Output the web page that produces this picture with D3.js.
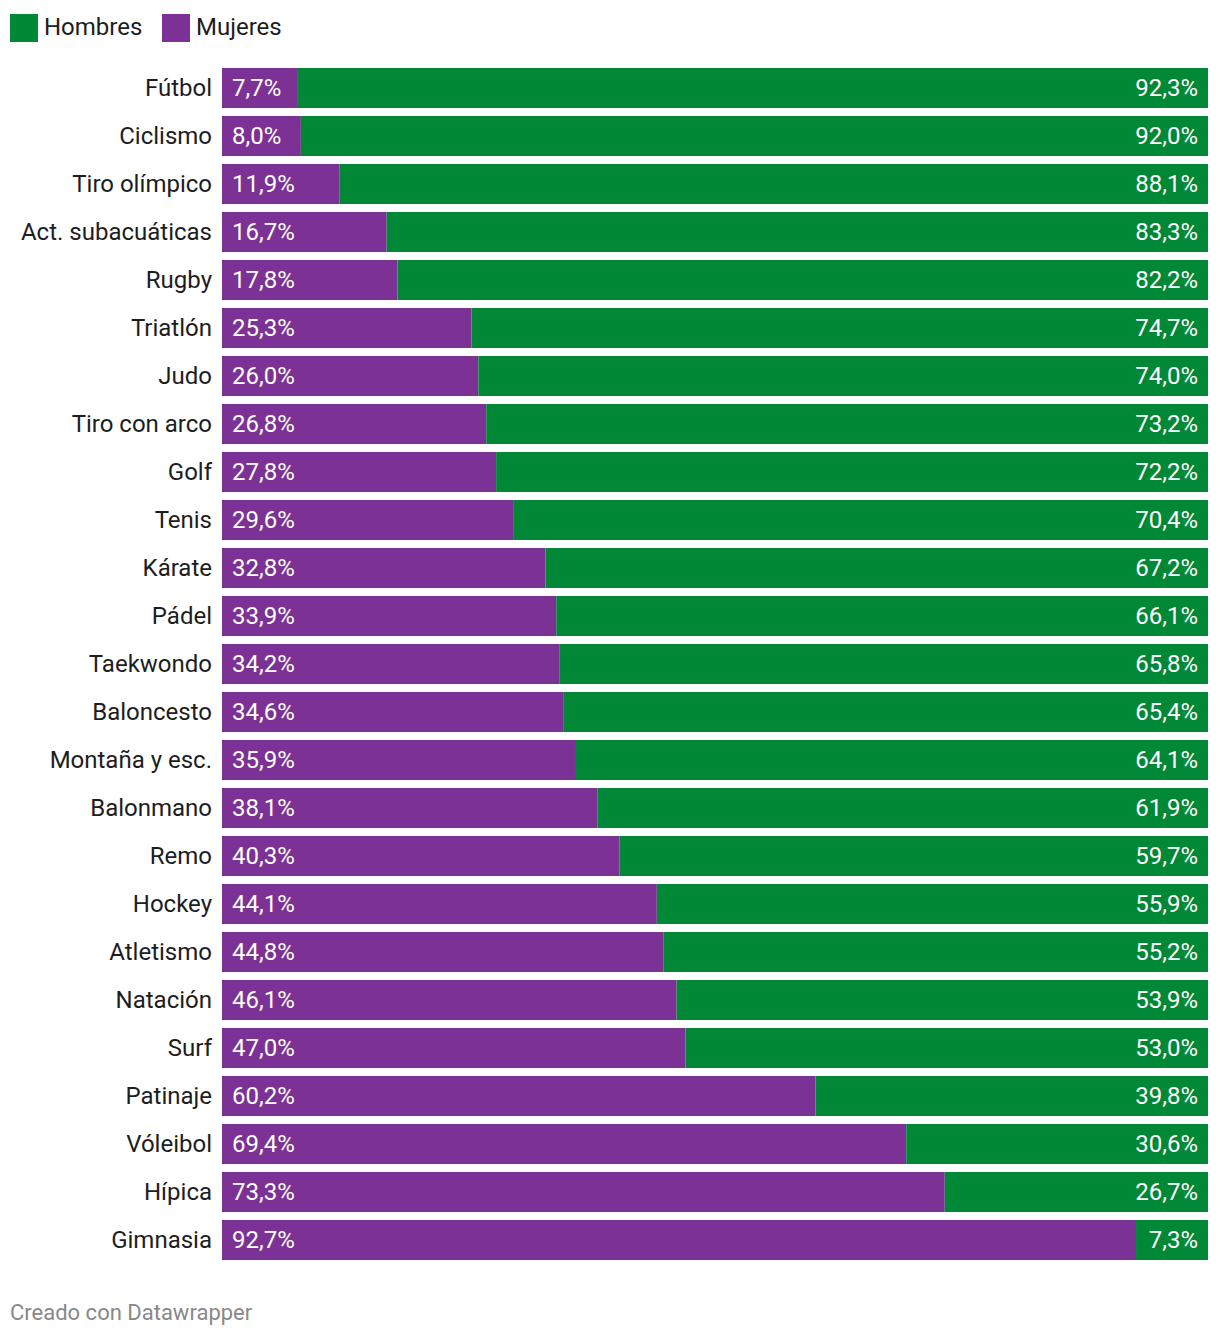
<!DOCTYPE html>
<html>
<head>
<meta charset="utf-8">
<script src="https://cdn.jsdelivr.net/npm/d3@7"></script>
<style>
	body { margin: 0; background: #fff; font-family: Roboto, sans-serif; }
</style>
</head>
<body>
<div id="chart"></div>
<script>
var sports = ['Fútbol', 'Ciclismo', 'Tiro olímpico', 'Act. subacuáticas', 'Rugby', 'Triatlón', 'Judo',
	'Tiro con arco', 'Golf', 'Tenis', 'Kárate', 'Pádel', 'Taekwondo', 'Baloncesto', 'Montaña y esc.',
	'Balonmano', 'Remo', 'Hockey', 'Atletismo', 'Natación', 'Surf', 'Patinaje', 'Vóleibol', 'Hípica', 'Gimnasia'];
var mujeres = [7.7, 8.0, 11.9, 16.7, 17.8, 25.3, 26.0, 26.8, 27.8, 29.6, 32.8, 33.9, 34.2, 34.6, 35.9,
	38.1, 40.3, 44.1, 44.8, 46.1, 47.0, 60.2, 69.4, 73.3, 92.7];
var hombres = [92.3, 92.0, 88.1, 83.3, 82.2, 74.7, 74.0, 73.2, 72.2, 70.4, 67.2, 66.1, 65.8, 65.4, 64.1,
	61.9, 59.7, 55.9, 55.2, 53.9, 53.0, 39.8, 30.6, 26.7, 7.3];
var series = ['Hombres', 'Mujeres'];
var colors = { Hombres: '#008837', Mujeres: '#7b3294' };

var width = 1220, height = 1338;
var margin = { top: 64, left: 222, right: 12 };

var rows = sports.map(function(s, i) { return { name: s, m: mujeres[i], h: hombres[i] }; });

var svg = d3.select('#chart').append('svg')
	.attr('width', width)
	.attr('height', height);

var x = d3.scaleLinear().domain([0, 100]).range([margin.left, width - margin.right]);
var y = d3.scaleBand().domain(sports).range([margin.top, margin.top + 48 * sports.length]).paddingInner(1 / 6).paddingOuter(1 / 12);

var fmt = function(v) { return d3.format('.1f')(v).replace('.', ',') + '%'; };

// legend
var legend = svg.append('g').selectAll('g')
	.data(series)
	.enter()
	.append('g')
	.attr('transform', function(d, i) { return 'translate(' + (i === 0 ? 10 : 162) + ',14)'; });

legend.append('rect')
	.attr('width', 28)
	.attr('height', 28)
	.attr('fill', function(d) { return colors[d]; });

legend.append('text')
	.attr('x', 34)
	.attr('y', 21)
	.style('font-size', '24px')
	.style('fill', '#1d1d1d')
	.text(function(d) { return d; });

var rowEls = svg.append('g').selectAll('.row')
	.data(rows)
	.enter()
	.append('g')
	.attr('class', 'row');

rowEls.append('rect')
	.attr('x', x(0))
	.attr('y', function(d) { return y(d.name); })
	.attr('width', function(d) { return x(d.m) - x(0); })
	.attr('height', y.bandwidth())
	.attr('fill', colors.Mujeres);

rowEls.append('rect')
	.attr('x', function(d) { return x(d.m); })
	.attr('y', function(d) { return y(d.name); })
	.attr('width', function(d) { return x(100) - x(d.m); })
	.attr('height', y.bandwidth())
	.attr('fill', colors.Hombres);

rowEls.append('text')
	.attr('x', margin.left - 10)
	.attr('y', function(d) { return y(d.name) + y.bandwidth() / 2; })
	.attr('dy', '0.35em')
	.attr('text-anchor', 'end')
	.style('font-size', '24px')
	.style('fill', '#1d1d1d')
	.text(function(d) { return d.name; });

rowEls.append('text')
	.attr('x', x(0) + 10)
	.attr('y', function(d) { return y(d.name) + y.bandwidth() / 2; })
	.attr('dy', '0.35em')
	.style('font-size', '24px')
	.style('fill', '#fff')
	.text(function(d) { return fmt(d.m); });

rowEls.append('text')
	.attr('x', x(100) - 10)
	.attr('y', function(d) { return y(d.name) + y.bandwidth() / 2; })
	.attr('dy', '0.35em')
	.attr('text-anchor', 'end')
	.style('font-size', '24px')
	.style('fill', '#fff')
	.text(function(d) { return fmt(d.h); });

svg.append('text')
	.attr('x', 10)
	.attr('y', 1320)
	.style('font-size', '22px')
	.style('fill', '#888')
	.text('Creado con Datawrapper');
</script>
</body>
</html>
